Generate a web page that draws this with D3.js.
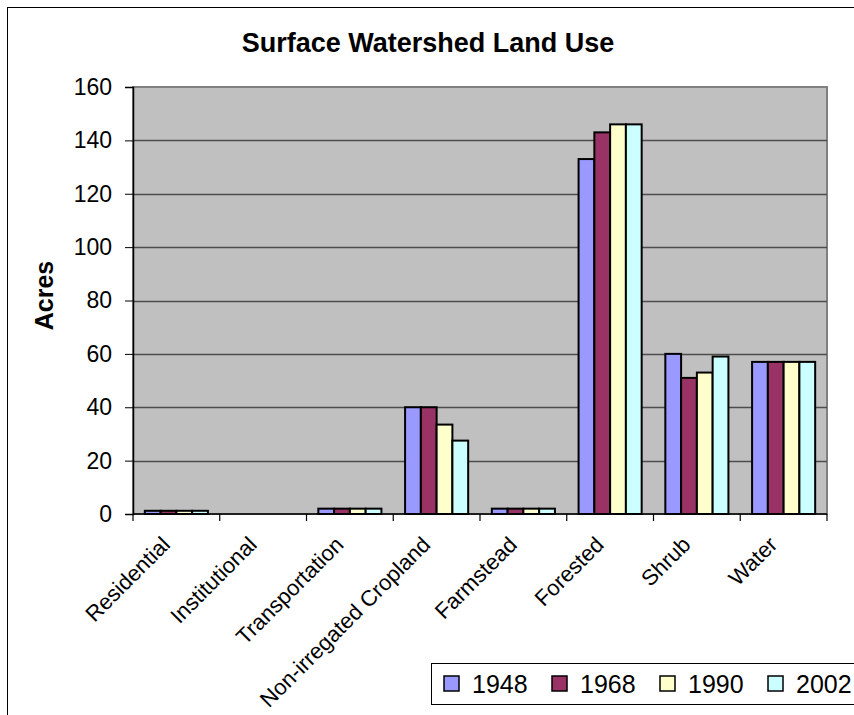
<!DOCTYPE html>
<html>
<head>
<meta charset="utf-8">
<script src="https://cdn.jsdelivr.net/npm/d3@7"></script>
<style>
  body { margin: 0; background: #fff; }
  svg { display: block; font-family: "Liberation Sans", Arial, sans-serif; }
</style>
</head>
<body>
<div id="chart"></div>
<script>
// chart data
const categories = ['Residential', 'Institutional', 'Transportation', 'Non-irregated Cropland',
  'Farmstead', 'Forested', 'Shrub', 'Water']
const years = ['1948', '1968', '1990', '2002']
const acres1948 = [1.2, 0, 2, 40, 2, 133, 60, 57]
const acres1968 = [1.2, 0, 2, 40, 2, 143, 51, 57]
const acres1990 = [1.2, 0, 2, 33.5, 2, 146, 53, 57]
const acres2002 = [1.2, 0, 2, 27.5, 2, 146, 59, 57]
const yTicks = [0, 20, 40, 60, 80, 100, 120, 140, 160]
const colors = ['#9999FF', '#993366', '#FFFFCC', '#CCFFFF']

let width = 854
let height = 715

let plot = {left: 133, right: 827, top: 87, bottom: 514}

const series = [acres1948, acres1968, acres1990, acres2002]

const svg = d3.select('#chart')
  .append('svg')
  .attr('width', width)
  .attr('height', height)

// outer chart frame
svg.append('rect')
  .attr('x', 7.5)
  .attr('y', 7.5)
  .attr('width', 880)
  .attr('height', 740)
  .attr('fill', '#fff')
  .attr('stroke', '#000')
  .attr('stroke-width', 1)

let xScale = d3.scaleBand()
  .domain(categories)
  .range([plot.left, plot.right])

let xInner = d3.scaleBand()
  .domain(years)
  .range([0, xScale.bandwidth()])
  .paddingOuter(0.75)

let yScale = d3.scaleLinear()
  .domain([0, 160])
  .range([plot.bottom, plot.top])

// plot area
svg.append('rect')
  .attr('x', plot.left)
  .attr('y', plot.top)
  .attr('width', plot.right - plot.left)
  .attr('height', plot.bottom - plot.top)
  .attr('fill', '#C0C0C0')
  .attr('stroke', '#808080')
  .attr('stroke-width', 2)

// gridlines
svg.append('g')
  .selectAll('line')
  .data(yTicks.filter(d => d > 0 && d < 160))
  .join('line')
  .attr('x1', plot.left)
  .attr('x2', plot.right)
  .attr('y1', d => Math.round(yScale(d)) + 0.5)
  .attr('y2', d => Math.round(yScale(d)) + 0.5)
  .attr('stroke', '#4d4d4d')
  .attr('stroke-width', 1.5)

// bars
let bars = []
categories.forEach(function(c, i){
  years.forEach(function(y, j){
    bars.push({cat: c, year: y, value: series[j][i], color: colors[j]})
  })
})

svg.append('g')
  .selectAll('rect')
  .data(bars.filter(d => d.value > 0))
  .join('rect')
  .attr('x', d => xScale(d.cat) + xInner(d.year))
  .attr('y', d => yScale(d.value))
  .attr('width', xInner.bandwidth())
  .attr('height', d => plot.bottom - yScale(d.value))
  .attr('fill', d => d.color)
  .attr('stroke', '#000')
  .attr('stroke-width', 2)

// y axis
const yAxis = g => g
  .attr('transform', `translate(${plot.left},0)`)
  .call(d3.axisLeft(yScale).tickValues(yTicks).tickSize(8).tickPadding(13))
  .call(g => g.selectAll('line').attr('stroke', '#000'))
  .call(g => g.select('.domain').attr('stroke', '#000').attr('stroke-width', 1.5))
  .call(g => g.selectAll('text')
    .attr('font-size', 23)
    .attr('font-family', '"Liberation Sans", Arial, sans-serif')
    .attr('fill', '#000'))

svg.append('g').call(yAxis)

// x axis: baseline, boundary ticks, rotated labels
svg.append('line')
  .attr('x1', plot.left)
  .attr('x2', plot.right)
  .attr('y1', plot.bottom)
  .attr('y2', plot.bottom)
  .attr('stroke', '#000')
  .attr('stroke-width', 1.5)

let boundaries = categories.map(c => xScale(c)).concat([plot.right])

svg.append('g')
  .selectAll('line')
  .data(boundaries)
  .join('line')
  .attr('x1', d => d)
  .attr('x2', d => d)
  .attr('y1', plot.bottom)
  .attr('y2', plot.bottom + 7)
  .attr('stroke', '#000')
  .attr('stroke-width', 1.2)

svg.append('g')
  .selectAll('text')
  .data(categories)
  .join('text')
  .attr('transform', d => `translate(${xScale(d) + xScale.bandwidth() / 2 - 5},${plot.bottom + 32}) rotate(-45)`)
  .attr('text-anchor', 'end')
  .attr('font-size', 22)
  .attr('fill', '#000')
  .text(d => d)

// titles
svg.append('text')
  .attr('x', 428)
  .attr('y', 52)
  .attr('text-anchor', 'middle')
  .attr('font-size', 27)
  .attr('font-weight', 'bold')
  .text('Surface Watershed Land Use')

svg.append('text')
  .attr('transform', `translate(53,${(plot.top + plot.bottom) / 2 - 5}) rotate(-90)`)
  .attr('text-anchor', 'middle')
  .attr('font-size', 25)
  .attr('font-weight', 'bold')
  .text('Acres')

// legend
const legend = svg.append('g')
  .attr('transform', 'translate(431,663)')

legend.append('rect')
  .attr('x', 0.5)
  .attr('y', 0.5)
  .attr('width', 500)
  .attr('height', 41)
  .attr('fill', '#fff')
  .attr('stroke', '#000')
  .attr('stroke-width', 1)

const item = legend.selectAll('g.item')
  .data(years)
  .join('g')
  .attr('class', 'item')
  .attr('transform', (d, i) => `translate(${13 + i * 108},0)`)

item.append('rect')
  .attr('x', 0)
  .attr('y', 13)
  .attr('width', 15)
  .attr('height', 15)
  .attr('fill', (d, i) => colors[i])
  .attr('stroke', '#000')
  .attr('stroke-width', 1.5)

item.append('text')
  .attr('x', 28)
  .attr('y', 30)
  .attr('font-size', 25)
  .attr('fill', '#000')
  .text(d => d)
</script>
</body>
</html>
